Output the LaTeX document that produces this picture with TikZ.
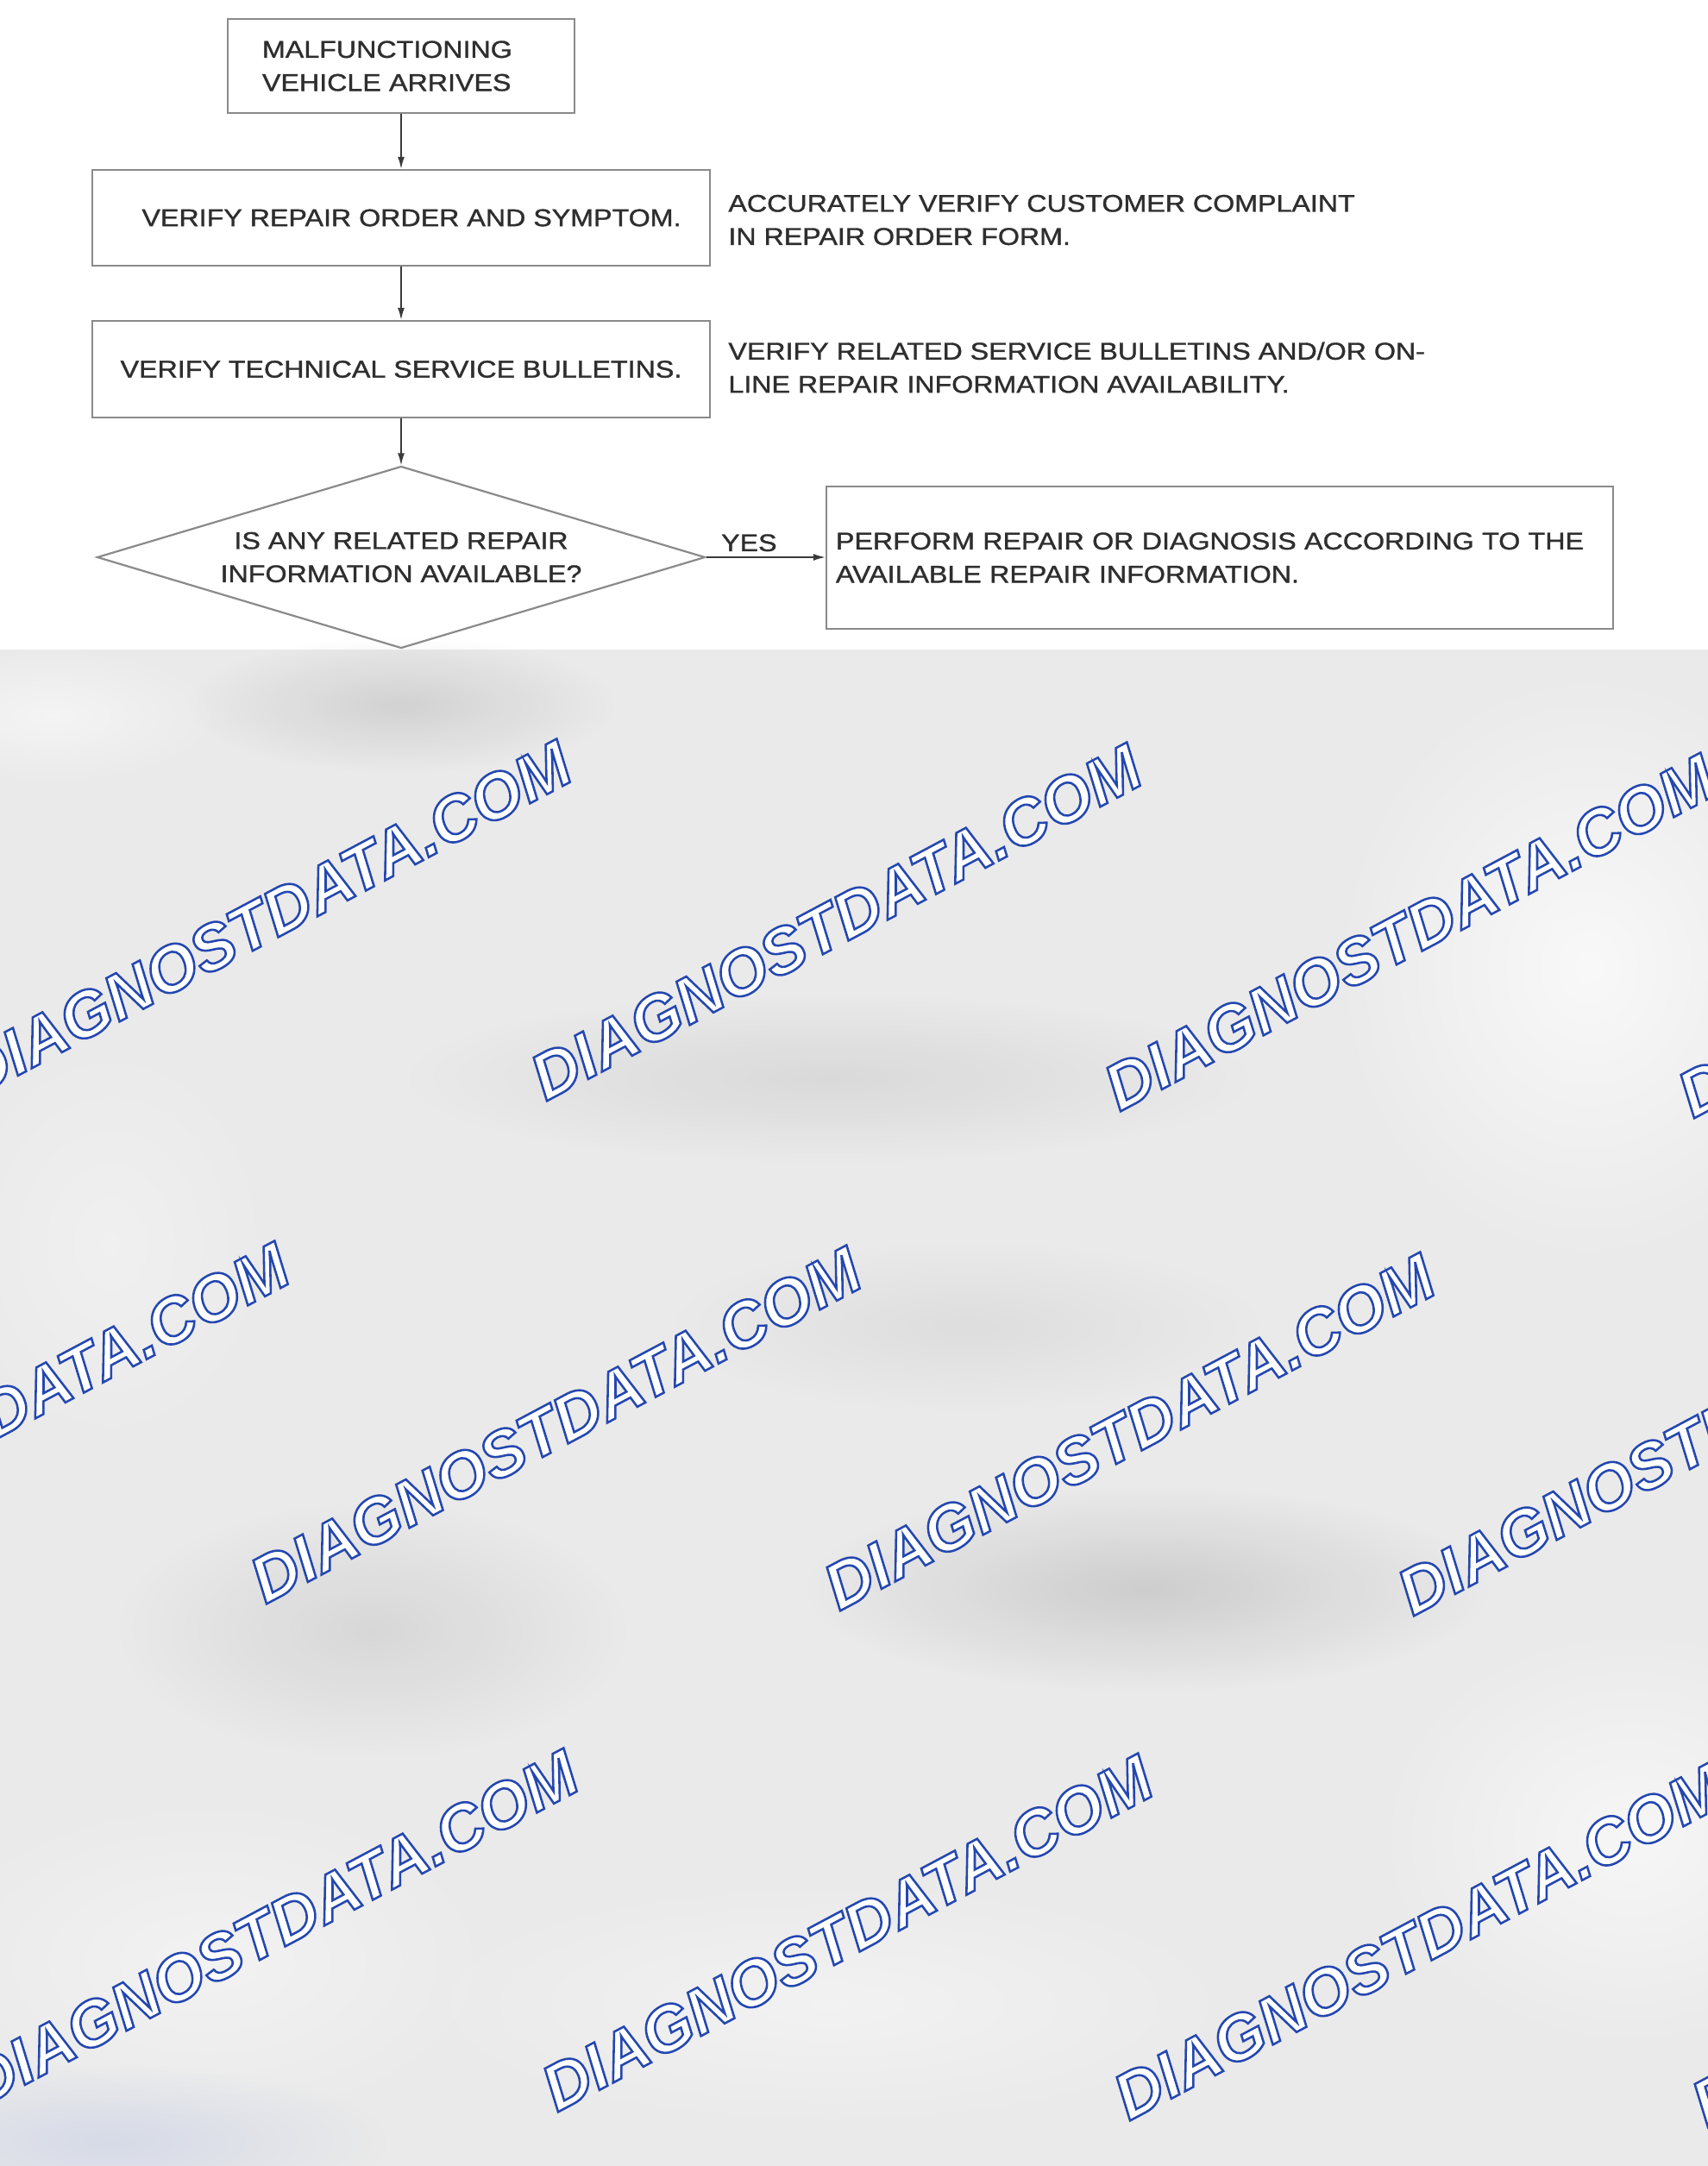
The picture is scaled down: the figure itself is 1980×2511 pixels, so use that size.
\documentclass[tikz,border=0pt]{standalone}
\usepackage{fontspec}
\setmainfont{Liberation Sans}
\newfontfamily\flowfont{Liberation Sans}[FakeStretch=1.15, FakeBold=1.2]
\newfontfamily\wmfont{Liberation Sans Bold Italic}[FakeBold=3.4]
\usetikzlibrary{arrows.meta,shapes.geometric,fadings}
\definecolor{boxgray}{HTML}{8A8A8A}
\definecolor{arrgray}{HTML}{3A3A3A}
\definecolor{txt}{HTML}{2E2E2E}
\definecolor{bggray}{HTML}{EAEAEA}
\definecolor{bluetint}{HTML}{C8D0E6}
\newcommand\flowtext{\flowfont\fontsize{14}{19.2}\selectfont}
% white fill, blue stroke for the outlined watermark letters
\newcommand\wmtext{\special{pdf:bcolor [1 1 1] [0.14 0.28 0.69]}DIAGNOSTDATA.COM\special{pdf:ecolor}}
\tikzfading[name=blobfade, inner color=transparent!0, outer color=transparent!100]
\tikzset{
  box/.style={draw=boxgray, line width=1.2pt, inner sep=0pt, font=\flowtext, text=txt},
  dia/.style={diamond, draw=boxgray, line width=1.1pt, aspect=3.33, inner sep=0pt,
    minimum width=352.5pt, minimum height=105.5pt, align=center, font=\flowtext, text=txt},
  note/.style={inner sep=0pt, align=left, font=\flowtext, text=txt},
  arr/.style={draw=arrgray, line width=0.8pt, -{Latex[length=7pt,width=4pt]}},
  wm/.style={inner sep=0pt, rotate=28, font=\wmfont\fontsize{37.5}{40}\selectfont},
  darkblob/.style={fill=black, path fading=blobfade},
  lightblob/.style={fill=white, path fading=blobfade},
}
\begin{document}
\begin{tikzpicture}[x=0.5pt, y=-0.5pt]
\useasboundingbox (0,0) rectangle (1980,2511);
\clip (0,0) rectangle (1980,2511);
% page background
\fill[white] (0,0) rectangle (1980,753);
\fill[bggray] (0,753) rectangle (1980,2511);
% blurred shading of the covered part
\fill[darkblob, fill opacity=0.10] (465,817) ellipse (250 and 80);
\fill[darkblob, fill opacity=0.07] (961,1250) ellipse (500 and 100);
\fill[darkblob, fill opacity=0.05] (1121,1538) ellipse (350 and 100);
\fill[darkblob, fill opacity=0.12] (1330,1842) ellipse (400 and 120);
\fill[darkblob, fill opacity=0.08] (432,1890) ellipse (300 and 150);
\fill[lightblob, fill opacity=0.70] (1842,1121) ellipse (300 and 350);
\fill[lightblob, fill opacity=0.60] (1890,2130) ellipse (300 and 250);
\fill[lightblob, fill opacity=0.40] (240,2275) ellipse (350 and 200);
\fill[lightblob, fill opacity=0.40] (961,2323) ellipse (500 and 150);
\fill[lightblob, fill opacity=0.30] (128,1442) ellipse (200 and 250);
\fill[lightblob, fill opacity=0.50] (60,830) ellipse (200 and 80);
\fill[fill=bluetint, path fading=blobfade, fill opacity=0.6] (128,2483) ellipse (320 and 90);
% watermarks
\node[wm] (w1)  at (308,1065)  {\wmtext};
\node[wm] (w2)  at (969,1069)  {\wmtext};
\node[wm] (w3)  at (1634,1081) {\wmtext};
\node[wm] (w4)  at (2299,1089) {\wmtext};
\node[wm] (w5)  at (-19,1647)  {\wmtext};
\node[wm] (w6)  at (644,1652)  {\wmtext};
\node[wm] (w7)  at (1309,1660) {\wmtext};
\node[wm] (w8)  at (1974,1666) {\wmtext};
\node[wm] (w9)  at (316,2235)  {\wmtext};
\node[wm] (w10) at (982,2241)  {\wmtext};
\node[wm] (w11) at (1645,2251) {\wmtext};
\node[wm] (w12) at (2315,2259) {\wmtext};
% flowchart
\node[box, minimum width=201pt, minimum height=54.5pt, align=left, text width=161pt]
  (b1) at (465,76.5) {MALFUNCTIONING\\VEHICLE ARRIVES};
\node[box, minimum width=358pt, minimum height=55.5pt]
  (b2) at (465,252.5) {\hspace*{12pt}VERIFY REPAIR ORDER AND SYMPTOM.};
\node[box, minimum width=358pt, minimum height=56pt]
  (b3) at (465,428) {VERIFY TECHNICAL SERVICE BULLETINS.};
\node[dia] (d) at (465,646) {IS ANY RELATED REPAIR\\INFORMATION AVAILABLE?};
\node[box, minimum width=456pt, minimum height=82.5pt, align=left, text width=445pt]
  (b4) at (1414,646.5) {\mbox{PERFORM REPAIR OR DIAGNOSIS ACCORDING TO THE}\\\mbox{AVAILABLE REPAIR INFORMATION.}};
\node[note, anchor=west] (n1) at (844,255) {ACCURATELY VERIFY CUSTOMER COMPLAINT\\IN REPAIR ORDER FORM.};
\node[note, anchor=west] (n2) at (844,426) {VERIFY RELATED SERVICE BULLETINS AND/OR ON-\\LINE REPAIR INFORMATION AVAILABILITY.};
\draw[arr] (b1) -- (b2);
\draw[arr] (b2) -- (b3);
\draw[arr] (b3) -- (d);
\draw[arr] (d.east) -- (d.east -| b4.west)
  node[pos=0.36, above, inner sep=3pt, font=\flowtext, text=txt] (yes) {YES};
\end{tikzpicture}
\end{document}
